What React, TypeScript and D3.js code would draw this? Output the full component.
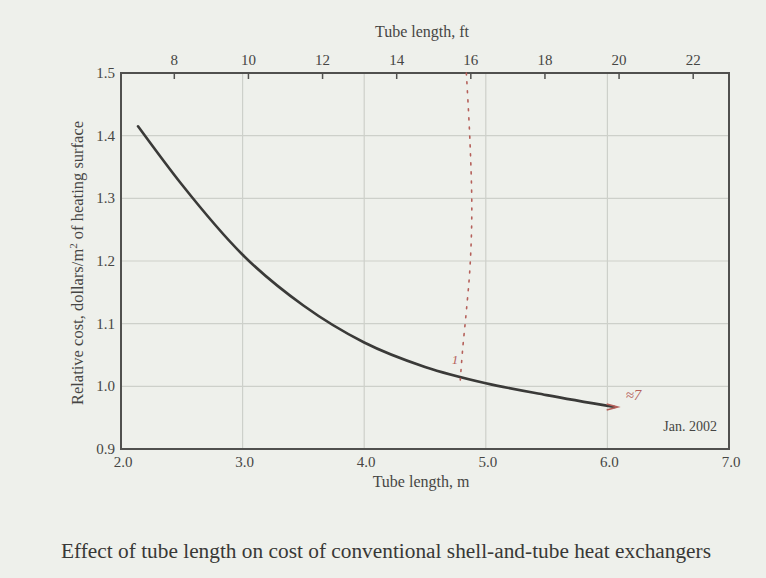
import React from "react";
import * as d3 from "d3";

// tube length in metres vs relative cost
const tubeLengthM = [2.14, 2.5, 3.0, 3.5, 4.0, 4.5, 5.0, 5.5, 6.06];
const relativeCost = [1.415, 1.322, 1.21, 1.129, 1.07, 1.031, 1.005, 0.986, 0.967];

// hand-drawn red note on the photo
const noteLengthM = [4.84, 4.87, 4.885, 4.87, 4.84, 4.81, 4.79];
const noteCost = [1.5, 1.39, 1.28, 1.19, 1.12, 1.06, 1.01];

const meterTicks = [2.0, 3.0, 4.0, 5.0, 6.0, 7.0];
const feetTicks = [8, 10, 12, 14, 16, 18, 20, 22];
const costTicks = [0.9, 1.0, 1.1, 1.2, 1.3, 1.4, 1.5];

const W = 766;
const H = 578;
const plot = { left: 121, right: 729, top: 73, bottom: 449 };

export default function App() {
  const x = d3.scaleLinear().domain([2, 7]).range([plot.left, plot.right]);
  const xFt = d3.scaleLinear().domain([2 / 0.3048, 7 / 0.3048]).range([plot.left, plot.right]);
  const y = d3.scaleLinear().domain([0.9, 1.5]).range([plot.bottom, plot.top]);

  const line = d3
    .line<number>()
    .x((_, i) => x(tubeLengthM[i]))
    .y((d) => y(d))
    .curve(d3.curveMonotoneX);

  const noteLine = d3
    .line<number>()
    .x((_, i) => x(noteLengthM[i]))
    .y((d) => y(d))
    .curve(d3.curveCatmullRom);

  const textColor = "#464644";
  const font = "'Liberation Serif', 'DejaVu Serif', serif";
  const last = tubeLengthM.length - 1;
  const ex = x(tubeLengthM[last]);
  const ey = y(relativeCost[last]);

  return (
    <svg
      width={W}
      height={H}
      style={{ position: "absolute", left: 0, top: 0, background: "#eef0eb", fontFamily: font }}
    >
      {/* grid */}
      <g stroke="#cdd0ca" strokeWidth={1.2}>
        {costTicks.slice(1, -1).map((t) => (
          <line key={"h" + t} x1={plot.left} x2={plot.right} y1={y(t)} y2={y(t)} />
        ))}
        {meterTicks.slice(1, -1).map((t) => (
          <line key={"v" + t} x1={x(t)} x2={x(t)} y1={plot.top} y2={plot.bottom} />
        ))}
      </g>

      {/* frame */}
      <rect
        x={plot.left}
        y={plot.top}
        width={plot.right - plot.left}
        height={plot.bottom - plot.top}
        fill="none"
        stroke="#50504e"
        strokeWidth={2}
      />

      {/* top axis in feet */}
      <g fill={textColor} fontSize={15} textAnchor="middle">
        {feetTicks.map((t) => (
          <g key={"ft" + t}>
            <line x1={xFt(t)} x2={xFt(t)} y1={plot.top} y2={plot.top + 6} stroke="#50504e" strokeWidth={1.5} />
            <text x={xFt(t)} y={65}>{t}</text>
          </g>
        ))}
        <text x={422} y={37} fontSize={16}>Tube length, ft</text>
      </g>

      {/* bottom axis in metres */}
      <g fill={textColor} fontSize={15} textAnchor="middle">
        {meterTicks.map((t) => (
          <text key={"m" + t} x={x(t) + 2} y={467}>{t.toFixed(1)}</text>
        ))}
        <text x={421} y={487} fontSize={16}>Tube length, m</text>
      </g>

      {/* left axis */}
      <g fill={textColor} fontSize={15} textAnchor="end">
        {costTicks.map((t) => (
          <text key={"c" + t} x={plot.left - 6} y={y(t) + 5}>{t.toFixed(1)}</text>
        ))}
      </g>
      <text
        transform={`translate(83,${(plot.top + plot.bottom) / 2 + 2}) rotate(-90)`}
        textAnchor="middle"
        fill={textColor}
        fontSize={16.5}
      >
        Relative cost, dollars/m<tspan dy={-6} fontSize={11}>2</tspan>
        <tspan dy={6}> of heating surface</tspan>
      </text>

      {/* cost curve */}
      <path d={line(relativeCost) ?? ""} fill="none" stroke="#3a3a38" strokeWidth={2.6} strokeLinecap="round" />

      {/* red handwritten note */}
      <path
        d={noteLine(noteCost) ?? ""}
        fill="none"
        stroke="#b5605a"
        strokeWidth={1.6}
        strokeDasharray="2 7"
        strokeLinecap="round"
      />
      <text x={x(4.72)} y={y(1.035)} fill="#b5605a" fontSize={13} fontStyle="italic">1</text>
      <path
        d={`M${ex - 8},${ey - 3}L${ex + 3},${ey}L${ex - 8},${ey + 3}`}
        fill="none"
        stroke="#b5605a"
        strokeWidth={1.6}
      />
      <text x={x(6.15)} y={y(0.978)} fill="#b5605a" fontSize={15} fontStyle="italic">≈7</text>

      <text x={717} y={431} textAnchor="end" fill={textColor} fontSize={14}>Jan. 2002</text>

      {/* caption */}
      <text
        x={61}
        y={558}
        fill="#383836"
        fontSize={20}
        textLength={650}
        lengthAdjust="spacingAndGlyphs"
      >
        Effect of tube length on cost of conventional shell-and-tube heat exchangers
      </text>
    </svg>
  );
}
